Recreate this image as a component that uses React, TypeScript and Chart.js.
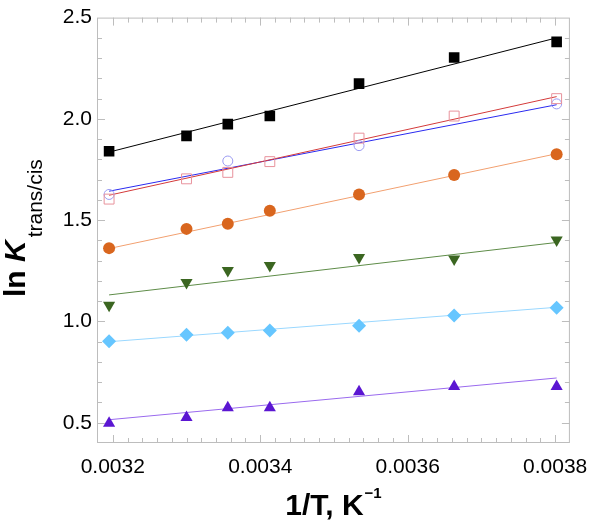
import React, { useEffect, useRef } from "react";
import { Chart, registerables } from "chart.js";
Chart.register(...registerables);

// 1/T values (K^-1)
const invT = [0.003195, 0.0033, 0.003356, 0.003413, 0.003534, 0.003663, 0.003802];
const fitX = [0.003195, 0.003802];

const blackVals = [1.84, 1.916, 1.974, 2.014, 2.174, 2.303, 2.38];
const blackFit = [1.836, 2.4];
const pinkVals = [1.604, 1.704, 1.736, 1.789, 1.905, 2.014, 2.1];
const redFit = [1.623, 2.11];
const blueVals: (number | null)[] = [1.627, null, 1.792, null, 1.868, null, 2.074];
const blueFit = [1.643, 2.07];
const orangeVals = [1.362, 1.457, 1.482, 1.546, 1.627, 1.723, 1.825];
const orangeFit = [1.36, 1.828];
const greenVals = [1.08, 1.192, 1.252, 1.276, 1.316, 1.308, 1.402];
const greenFit = [1.131, 1.39];
const cyanVals = [0.902, 0.934, 0.944, 0.955, 0.979, 1.03, 1.068];
const cyanFit = [0.9, 1.07];
const purpleVals = [0.497, 0.526, 0.574, 0.574, 0.653, 0.679, 0.679];
const purpleFit = [0.515, 0.721];

const xTicks = [0.0032, 0.0034, 0.0036, 0.0038];
const yTicks = [0.5, 1.0, 1.5, 2.0, 2.5];

const pts = (vals: (number | null)[]) =>
  vals
    .map((v, i) => (v === null ? null : { x: invT[i], y: v }))
    .filter((p) => p !== null) as { x: number; y: number }[];
const fit = (f: number[]) => [
  { x: fitX[0], y: f[0] },
  { x: fitX[1], y: f[1] },
];

const lineDs = (f: number[], color: string) => ({
  data: fit(f),
  showLine: true,
  borderColor: color,
  borderWidth: 1,
  pointRadius: 0,
  order: 2,
});

const pointDs = (vals: (number | null)[], opts: any) => ({
  data: pts(vals),
  showLine: false,
  order: 1,
  ...opts,
});

const FONT = "'Liberation Sans', Arial, Helvetica, sans-serif";

const framePlugin = {
  id: "frameTicks",
  afterDraw(chart: any) {
    const { ctx, chartArea } = chart;
    const { left, right, top, bottom } = chartArea;
    const xs = chart.scales.x;
    const ys = chart.scales.y;
    ctx.save();
    ctx.strokeStyle = "#bdbdbd";
    ctx.lineWidth = 1;
    ctx.strokeRect(left + 0.5, top + 0.5, right - left - 1, bottom - top - 1);
    ctx.beginPath();
    // x minor / major ticks
    for (let k = 0; k <= 40; k++) {
      const v = 0.00316 + k * 0.00002;
      const px = Math.round(xs.getPixelForValue(v)) + 0.5;
      if (px < left + 2 || px > right - 2) continue;
      const major = Math.abs(((v * 1e5) % 20)) < 0.01 || Math.abs(((v * 1e5) % 20) - 20) < 0.01;
      const len = major ? 8 : 5;
      ctx.moveTo(px, bottom);
      ctx.lineTo(px, bottom - len);
      ctx.moveTo(px, top);
      ctx.lineTo(px, top + len);
    }
    for (let k = 0; k <= 22; k++) {
      const v = 0.4 + k * 0.1;
      const py = Math.round(ys.getPixelForValue(v)) + 0.5;
      if (py < top + 2 || py > bottom - 2) continue;
      const major = k % 5 === 1;
      const len = major ? 8 : 5;
      ctx.moveTo(left, py);
      ctx.lineTo(left + len, py);
      ctx.moveTo(right, py);
      ctx.lineTo(right - len, py);
    }
    ctx.stroke();

    // axis titles
    ctx.fillStyle = "#000";
    // x title
    ctx.textBaseline = "alphabetic";
    ctx.textAlign = "left";
    ctx.font = `bold 30px ${FONT}`;
    const main = "1/T, K";
    const mw = ctx.measureText(main).width;
    ctx.font = `bold 15px ${FONT}`;
    const sup = "\u22121";
    const sw = ctx.measureText(sup).width;
    const cx = (left + right) / 2;
    const sx = cx - (mw + sw + 1) / 2;
    ctx.font = `bold 30px ${FONT}`;
    ctx.fillText(main, sx, 515);
    ctx.font = `bold 15px ${FONT}`;
    ctx.fillText(sup, sx + mw + 1, 498);

    // y title rotated
    ctx.save();
    ctx.translate(25, 297);
    ctx.rotate(-Math.PI / 2);
    ctx.font = `bold 30px ${FONT}`;
    ctx.fillText("ln ", 0, 0);
    let w = ctx.measureText("ln ").width;
    ctx.font = `italic bold 30px ${FONT}`;
    ctx.fillText("K", w, 0);
    w += ctx.measureText("K").width;
    ctx.font = `21px ${FONT}`;
    ctx.fillText("trans/cis", w + 3, 17);
    ctx.restore();
    ctx.restore();
  },
};

export default function App() {
  const ref = useRef<HTMLCanvasElement>(null);
  useEffect(() => {
    if (!ref.current) return;
    const chart = new Chart(ref.current, {
      type: "scatter",
      data: {
        datasets: [
          lineDs(blackFit, "#000000"),
          lineDs(redFit, "#d43a3a"),
          lineDs(blueFit, "#2a2af0"),
          lineDs(orangeFit, "#f2a070"),
          lineDs(greenFit, "#5e8c48"),
          lineDs(cyanFit, "#9ad8ff"),
          lineDs(purpleFit, "#9a6aee"),
          pointDs(blackVals, {
            pointStyle: "rect",
            pointRadius: 7.5,
            backgroundColor: "#000",
            borderColor: "#000",
            borderWidth: 0,
          }),
          pointDs(pinkVals, {
            pointStyle: "rect",
            pointRadius: 7,
            backgroundColor: "rgba(0,0,0,0)",
            borderColor: "#e8929c",
            borderWidth: 1,
          }),
          pointDs(blueVals, {
            pointStyle: "circle",
            pointRadius: 5,
            backgroundColor: "rgba(0,0,0,0)",
            borderColor: "#9a9af2",
            borderWidth: 1,
          }),
          pointDs(orangeVals, {
            pointStyle: "circle",
            pointRadius: 6,
            backgroundColor: "#d9661e",
            borderColor: "#d9661e",
            borderWidth: 0,
          }),
          pointDs(greenVals, {
            pointStyle: "triangle",
            rotation: 180,
            pointRadius: 7,
            backgroundColor: "#3b6621",
            borderColor: "#3b6621",
            borderWidth: 0,
          }),
          pointDs(cyanVals, {
            pointStyle: "rectRot",
            pointRadius: 7,
            backgroundColor: "#66c6ff",
            borderColor: "#66c6ff",
            borderWidth: 0,
          }),
          pointDs(purpleVals, {
            pointStyle: "triangle",
            pointRadius: 7,
            backgroundColor: "#5b16d2",
            borderColor: "#5b16d2",
            borderWidth: 0,
          }),
        ] as any,
      },
      options: {
        animation: false,
        responsive: false,
        maintainAspectRatio: false,
        events: [],
        layout: { padding: { left: 0, top: 9, right: 23, bottom: 0 } },
        plugins: { legend: { display: false }, tooltip: { enabled: false } },
        scales: {
          x: {
            type: "linear",
            min: 0.0031786,
            max: 0.00382,
            grid: { display: false, drawTicks: false },
            border: { display: false },
            afterFit: (s: any) => {
              s.height = 79;
            },
            afterBuildTicks: (s: any) => {
              s.ticks = xTicks.map((v) => ({ value: v }));
            },
            ticks: {
              padding: 12,
              color: "#000",
              font: { size: 21, family: FONT },
              maxRotation: 0,
              callback: (v: any) => Number(v).toFixed(4),
            },
          },
          y: {
            type: "linear",
            min: 0.4,
            max: 2.5,
            grid: { display: false, drawTicks: false },
            border: { display: false },
            afterFit: (s: any) => {
              s.width = 97;
            },
            afterBuildTicks: (s: any) => {
              s.ticks = yTicks.map((v) => ({ value: v }));
            },
            ticks: {
              padding: 5,
              color: "#000",
              font: { size: 21, family: FONT },
              callback: (v: any) => Number(v).toFixed(1),
            },
          },
        },
      },
      plugins: [framePlugin],
    });
    return () => chart.destroy();
  }, []);
  return (
    <div style={{ position: "absolute", left: 0, top: 0, width: 600, height: 522 }}>
      <canvas ref={ref} width={600} height={522} style={{ width: 600, height: 522, display: "block" }} />
    </div>
  );
}
